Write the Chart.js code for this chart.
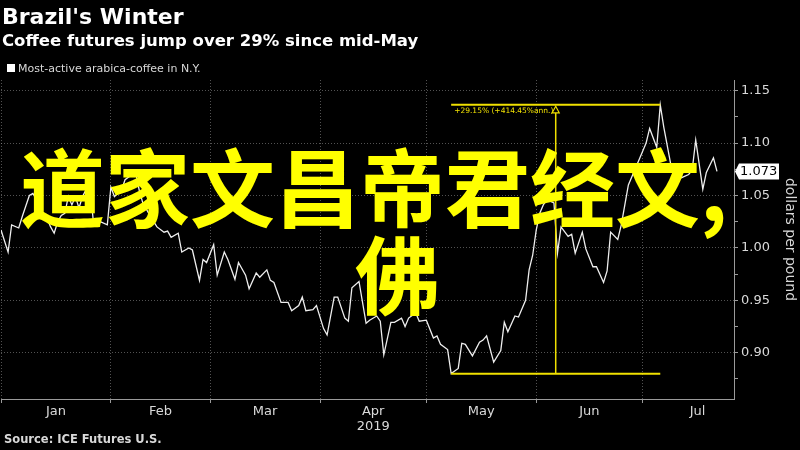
<!DOCTYPE html>
<html><head><meta charset="utf-8">
<script src="https://cdn.jsdelivr.net/npm/chart.js@4"></script>
<style>
html,body{margin:0;padding:0;background:#000;width:800px;height:450px;overflow:hidden;}
#wrap{position:relative;width:800px;height:450px;background:#000;}
#c{position:absolute;left:0;top:0;}
.t{position:absolute;white-space:nowrap;font-family:"DejaVu Sans",sans-serif;}
#title{left:2px;top:6px;font-size:22px;line-height:22px;font-weight:bold;color:#fff;}
#subtitle{left:2px;top:33px;font-size:16.5px;line-height:16.5px;font-weight:bold;color:#fff;}
#legend{left:7px;top:63px;font-size:11px;line-height:11px;color:#d8d8d8;}
#legend span.box{display:inline-block;width:8px;height:8px;background:#fff;margin-right:3px;vertical-align:0px;}
#source{left:4px;top:434px;font-size:11.5px;line-height:11.5px;font-weight:bold;color:#d8d8d8;}
.cjk{position:absolute;white-space:nowrap;font-family:"Noto Sans CJK SC",sans-serif;font-weight:700;font-size:85px;line-height:85px;color:#ffff00;z-index:5;}
#cjk1{left:20px;top:141px;}
#cjk2{left:355px;top:228px;}
</style></head><body>
<div id="wrap">
<canvas id="c" width="800" height="450"></canvas>
<div class="t" id="title">Brazil's Winter</div>
<div class="t" id="subtitle">Coffee futures jump over 29% since mid-May</div>
<div class="t" id="legend"><span class="box"></span><span id="legtext"></span></div>
<div class="t" id="source">Source: ICE Futures U.S.</div>
<div class="cjk" id="cjk1">道家文昌帝君经文,</div>
<div class="cjk" id="cjk2">佛</div>
</div>
<script>
// ---- data (day of year 2019, 0 = Jan 1) ----
const seriesLabel = 'Most-active arabica-coffee in N.Y.';
const days = [
  0,2,3,5,6,8,9,10,11,13,
  14,15,16,17,18,19,20,21,22,23,
  25,26,28,30,31,32,34,35,37,38,
  39,40,42,44,46,47,48,50,51,53,
  54,56,57,58,60,61,63,64,66,67,
  69,70,72,73,75,76,77,79,81,82,
  84,85,86,88,89,91,92,94,95,97,
  98,99,101,103,104,106,107,108,110,111,
  113,114,115,117,118,120,122,123,124,126,
  127,129,130,131,133,135,136,137,139,141,
  142,143,145,146,148,149,150,151,152,153,
  154,156,157,158,160,161,162,164,165,167,
  168,170,171,172,174,175,176,177,179,181,
  182,183,185,186,187,189,190,191,192,194,
  195,196,198,199,201,202
];
const prices = [
  1.017,0.996,1.022,1.019,1.030,1.050,1.052,1.046,1.036,1.028,
  1.020,1.014,1.025,1.031,1.033,1.049,1.041,1.049,1.038,1.049,
  1.062,1.027,1.025,1.022,1.058,1.049,1.055,1.065,1.070,1.072,
  1.055,1.043,1.031,1.020,1.015,1.016,1.010,1.014,0.996,1.000,
  0.998,0.969,0.989,0.986,1.003,0.974,0.996,0.989,0.970,0.986,
  0.974,0.961,0.976,0.972,0.979,0.969,0.967,0.948,0.948,0.940,
  0.945,0.953,0.940,0.941,0.945,0.923,0.917,0.953,0.953,0.933,
  0.930,0.962,0.968,0.928,0.931,0.935,0.930,0.898,0.929,0.929,
  0.933,0.925,0.933,0.938,0.930,0.931,0.914,0.916,0.908,0.903,
  0.880,0.885,0.909,0.908,0.897,0.910,0.912,0.916,0.891,0.902,
  0.929,0.920,0.935,0.934,0.950,0.979,0.993,1.017,1.033,1.041,
  1.046,1.043,0.995,1.020,1.011,1.013,0.995,1.015,0.999,0.982,
  0.982,0.967,0.978,1.015,1.008,1.022,1.041,1.060,1.076,1.092,
  1.100,1.114,1.096,1.1365,1.115,1.079,1.063,1.070,1.067,1.070,
  1.074,1.103,1.056,1.072,1.086,1.073
];
const monthStarts = [0,31,59,90,120,151,181];
const monthMids = [15.5,45,74.5,105,135.5,166,196.5];
const monthLabels = ['Jan','Feb','Mar','Apr','May','Jun','Jul'];
const yearLabel = '2019';
const yearUnderMonth = 'Apr';
const yMajorTicks = [0.90,0.95,1.00,1.05,1.10,1.15];
const yMinorTicks = [0.875,0.925,0.975,1.025,1.075,1.125];
const annotDays = [127,186];
const annotAnnText = '+414.45%ann.';
const yTitle = 'dollars per pound';

document.getElementById('legtext').textContent = seriesLabel;

const GRID = 'rgba(150,150,150,0.55)';
const AXIS = '#9a9a9a';
const TICKTXT = '#d9d9d9';
const YEL = '#f0e000';
const CLEAR = 'rgba(0,0,0,0)';
const isMajorY = v => Math.abs(v*20 - Math.round(v*20)) < 1e-6;
const isMonthStart = c => c.tick && monthStarts.indexOf(c.tick.value) >= 0;

const annotPlugin = {
  id: 'annot',
  afterDatasetsDraw(chart) {
    const {ctx, scales: {x, y}} = chart;
    const iLo = days.indexOf(annotDays[0]), iHi = days.indexOf(annotDays[1]);
    const lo = prices[iLo], hi = prices[iHi];
    const x1 = x.getPixelForValue(annotDays[0]), x2 = x.getPixelForValue(annotDays[1]);
    const yLo = y.getPixelForValue(lo), yHi = y.getPixelForValue(hi);
    const xm = (x1 + x2) / 2;
    ctx.save();
    ctx.strokeStyle = YEL;
    ctx.lineWidth = 2;
    ctx.beginPath();
    ctx.moveTo(x1, yHi); ctx.lineTo(x2, yHi);
    ctx.moveTo(x1, yLo); ctx.lineTo(x2, yLo);
    ctx.stroke();
    ctx.lineWidth = 1.5;
    ctx.beginPath();
    ctx.moveTo(xm, yHi + 8); ctx.lineTo(xm, yLo);
    ctx.stroke();
    ctx.lineWidth = 1.2;
    ctx.beginPath();
    ctx.moveTo(xm, yHi + 1.5); ctx.lineTo(xm - 3.5, yHi + 8); ctx.lineTo(xm + 3.5, yHi + 8); ctx.closePath();
    ctx.fillStyle = '#000'; ctx.fill(); ctx.stroke();
    const pct = ((hi / lo - 1) * 100).toFixed(2);
    ctx.fillStyle = YEL;
    ctx.font = '7.5px "DejaVu Sans"';
    ctx.textBaseline = 'middle';
    ctx.textAlign = 'left';
    ctx.fillText('+' + pct + '% (' + annotAnnText + ')', x1 + 3, yHi + 6.5);
    ctx.restore();
  }
};

const lastValuePlugin = {
  id: 'lastValue',
  afterDraw(chart) {
    const {ctx, scales: {y}, chartArea} = chart;
    const v = prices[prices.length - 1];
    const py = y.getPixelForValue(v);
    const tip = chartArea.right + 1;
    const l = tip + 4, r = tip + 44, h = 8;
    ctx.save();
    ctx.fillStyle = '#fff';
    ctx.beginPath();
    ctx.moveTo(tip, py);
    ctx.lineTo(l, py - h);
    ctx.lineTo(r, py - h);
    ctx.lineTo(r, py + h);
    ctx.lineTo(l, py + h);
    ctx.closePath();
    ctx.fill();
    ctx.fillStyle = '#000';
    ctx.font = '13px "DejaVu Sans"';
    ctx.textBaseline = 'middle';
    ctx.textAlign = 'left';
    ctx.fillText(v.toFixed(3), l + 1, py + 0.5);
    ctx.restore();
  }
};

new Chart(document.getElementById('c'), {
  type: 'line',
  data: {
    datasets: [{
      label: seriesLabel,
      data: days.map((d, i) => ({x: d, y: prices[i]})),
      borderColor: '#eeeeee',
      borderWidth: 1.3,
      pointRadius: 0,
      tension: 0,
      fill: false
    }]
  },
  options: {
    responsive: false,
    animation: false,
    events: [],
    layout: {padding: {top: 80, left: 0, right: 0, bottom: 0}},
    plugins: {legend: {display: false}, tooltip: {enabled: false}},
    scales: {
      x: {
        type: 'linear', position: 'bottom', min: 0, max: 206.8,
        afterBuildTicks: s => {
          s.ticks = monthStarts.concat(monthMids).sort((a, b) => a - b).map(v => ({value: v}));
        },
        afterFit: s => { s.height = 51; },
        ticks: {
          autoSkip: false, maxRotation: 0, minRotation: 0, padding: 1,
          color: TICKTXT, font: {family: 'DejaVu Sans', size: 13, lineHeight: 1.15},
          callback: v => {
            const i = monthMids.indexOf(v);
            if (i < 0) return '';
            return monthLabels[i] === yearUnderMonth ? [monthLabels[i], yearLabel] : monthLabels[i];
          }
        },
        grid: {
          color: c => isMonthStart(c) ? GRID : CLEAR,
          tickColor: c => isMonthStart(c) ? AXIS : CLEAR,
          tickLength: 4, lineWidth: 1
        },
        border: {display: true, color: AXIS, width: 1, dash: [1, 2]}
      },
      y: {
        type: 'linear', position: 'right', min: 0.8558, max: 1.1602,
        afterBuildTicks: s => {
          s.ticks = yMajorTicks.concat(yMinorTicks).sort((a, b) => a - b).map(v => ({value: v}));
        },
        afterFit: s => { s.width = 66; },
        ticks: {
          padding: 3, color: TICKTXT, font: {family: 'DejaVu Sans', size: 13},
          callback: v => isMajorY(v) ? v.toFixed(2) : ''
        },
        grid: {
          color: c => (c.tick && isMajorY(c.tick.value)) ? GRID : CLEAR,
          tickColor: AXIS, tickLength: 4, lineWidth: 1
        },
        border: {display: true, color: AXIS, width: 1, dash: [1, 2]},
        title: {display: true, text: yTitle, color: TICKTXT, font: {family: 'DejaVu Sans', size: 14}, padding: {top: 2, bottom: 0}}
      }
    }
  },
  plugins: [annotPlugin, lastValuePlugin]
});
</script>
</body></html>
